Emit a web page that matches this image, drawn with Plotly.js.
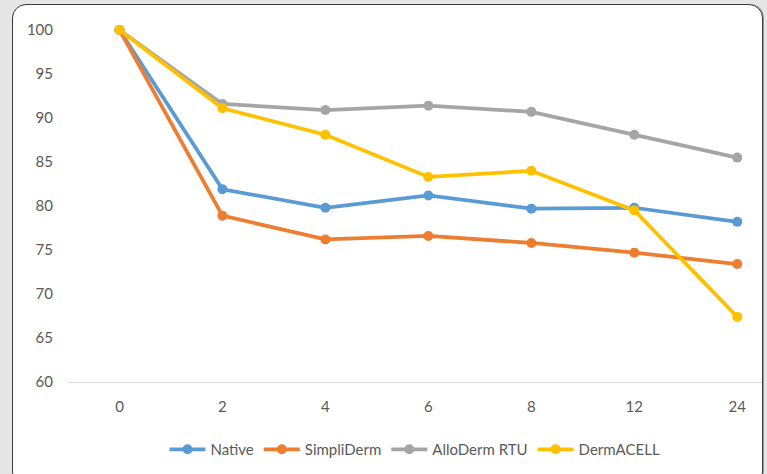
<!DOCTYPE html>
<html>
<head>
<meta charset="utf-8">
<script src="https://cdn.plot.ly/plotly-3.0.1.min.js"></script>
<style>
  html, body { margin: 0; padding: 0; background: #e6e6e6; width: 767px; height: 474px; overflow: hidden; }
  #frame {
    position: absolute; left: 12px; top: 4px; width: 749px; height: 480px;
    background: #ffffff; border: 1.5px solid #3a3a3a; border-radius: 14px;
    box-shadow: 1px 0 0 #9a9a9a;
  }
  #chart { position: absolute; left: 0; top: 0; width: 767px; height: 474px; }
</style>
</head>
<body>
<div id="frame"></div>
<div id="chart"></div>
<script>
// Time points (categorical axis)
const timepoints = ['0', '2', '4', '6', '8', '12', '24'];

// Percent remaining per graft type
const native      = [100, 81.9, 79.8, 81.2, 79.7, 79.8, 78.2];
const simpliDerm  = [100, 78.9, 76.2, 76.6, 75.8, 74.7, 73.4];
const alloDermRTU = [100, 91.6, 90.9, 91.4, 90.7, 88.1, 85.5];
const dermACELL   = [100, 91.1, 88.1, 83.3, 84.0, 79.5, 67.4];

const seriesNames  = ['Native', 'SimpliDerm', 'AlloDerm RTU', 'DermACELL'];
const seriesValues = [native, simpliDerm, alloDermRTU, dermACELL];
const seriesColors = ['#5b9bd5', '#ed7d31', '#a5a5a5', '#ffc000'];

const font = 'Lato, "Open Sans", Arial, sans-serif';

const traces = seriesNames.map((name, i) => ({
  type: 'scatter',
  mode: 'lines+markers',
  name: name,
  x: timepoints,
  y: seriesValues[i],
  line: { color: seriesColors[i], width: 3.75 },
  marker: { color: seriesColors[i], size: 10 },
  cliponaxis: false
}));

const layout = {
  width: 767,
  height: 474,
  margin: { l: 68, r: 5, t: 30, b: 92 },
  paper_bgcolor: 'rgba(0,0,0,0)',
  plot_bgcolor: 'rgba(0,0,0,0)',
  font: { family: font, size: 15, color: '#595959' },
  showlegend: true,
  legend: {
    orientation: 'h', x: 0.5, xanchor: 'center', y: -0.145, yanchor: 'top',
    font: { family: font, size: 15, color: '#595959' },
    itemwidth: 36, traceorder: 'normal'
  },
  xaxis: {
    type: 'category',
    range: [-0.5, 6.24],
    showgrid: false,
    zeroline: false,
    showline: true,
    linecolor: '#d9d9d9',
    linewidth: 1,
    ticks: '',
    ticklabelstandoff: 11,
    tickfont: { family: font, size: 15, color: '#595959' },
    fixedrange: true
  },
  yaxis: {
    range: [60, 100],
    dtick: 5,
    tick0: 60,
    showgrid: false,
    zeroline: false,
    showline: false,
    ticks: '',
    ticklabelstandoff: 14,
    tickfont: { family: font, size: 15, color: '#595959' },
    fixedrange: true
  }
};

Plotly.newPlot('chart', traces, layout, { displayModeBar: false, staticPlot: true });
</script>
</body>
</html>
